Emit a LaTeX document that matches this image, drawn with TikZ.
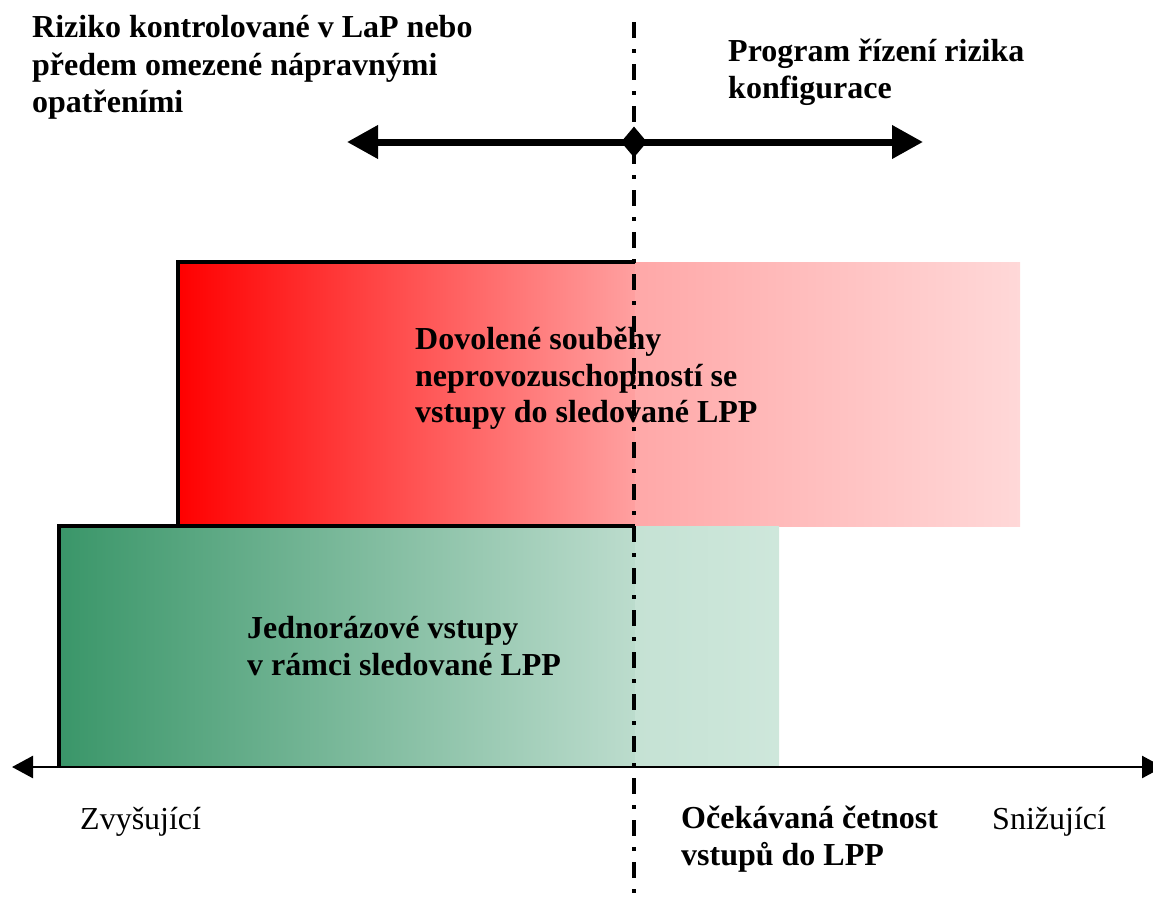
\documentclass[tikz,border=0pt]{standalone}
\usepackage{fontspec}
\setmainfont{Liberation Serif}
\usetikzlibrary{arrows.meta,shapes.geometric}

\definecolor{redStrong}{RGB}{255,0,0}
\definecolor{redMid}{RGB}{255,160,160}
\definecolor{redPaleA}{RGB}{255,168,168}
\definecolor{redPaleB}{RGB}{255,216,216}
\definecolor{greenStrong}{RGB}{58,150,105}
\definecolor{greenMid}{RGB}{188,220,205}
\definecolor{greenPaleA}{RGB}{197,226,212}
\definecolor{greenPaleB}{RGB}{206,231,219}

\begin{document}
\begin{tikzpicture}[x=1pt,y=-1pt,
  boldline/.style={anchor=base west, inner sep=0pt, font=\fontsize{32}{37.5}\selectfont\bfseries},
  plainline/.style={anchor=base west, inner sep=0pt, font=\fontsize{32}{37.5}\selectfont},
  frame/.style={line width=4pt, line cap=butt, line join=miter},
  divider/.style={line width=4pt, dash pattern=on 16pt off 11pt on 4pt off 11pt},
  scopearrow/.style={line width=7pt, {Triangle[length=31pt,width=32pt]}-{Triangle[length=31pt,width=32pt]}},
  axisarrow/.style={line width=2.5pt, {Triangle[length=21pt,width=22pt]}-{Triangle[length=21pt,width=22pt]}},
  pivot/.style={diamond, fill=black, inner sep=0pt, minimum width=26pt, minimum height=31pt}
]
\useasboundingbox (0,0) rectangle (1153,908);

% key points
\coordinate (divTop) at (634,22);
\coordinate (divBot) at (634,896);
\coordinate (scopeL) at (347,142);
\coordinate (scopeR) at (923,142);
\coordinate (axisL) at (12,767);
\coordinate (axisR) at (1163,767);

% band of allowed concurrent unavailabilities
\shade[left color=redStrong, right color=redMid] (178,262) rectangle (635,526);
\shade[left color=redPaleA, right color=redPaleB] (635,262) rectangle (1020,526);

% band of one-time entries
\shade[left color=greenStrong, right color=greenMid] (59,526) rectangle (635,767);
\shade[left color=greenPaleA, right color=greenPaleB] (635,526) rectangle (779,767);

% outlines of the left parts
\draw[frame] (635,262) -- (178,262) -- (178,526) -- (635,526);
\draw[line width=3.5pt] (178,526) -- (59,526) -- (59,767);

% axis
\draw[axisarrow] (axisL) -- (axisR);

% texts
\node[boldline] (tl1) at (32,37) {Riziko kontrolované v LaP nebo};
\node[boldline] (tl2) at (32,75) {předem omezené nápravnými};
\node[boldline] (tl3) at (32,112) {opatřeními};

\node[boldline] (tr1) at (728,61) {Program řízení rizika};
\node[boldline] (tr2) at (728,98) {konfigurace};

\node[boldline] (rd1) at (415,349) {Dovolené souběhy};
\node[boldline] (rd2) at (415,386) {neprovozuschopností se};
\node[boldline] (rd3) at (415,422) {vstupy do sledované LPP};

\node[boldline] (gr1) at (247,638) {Jednorázové vstupy};
\node[boldline] (gr2) at (247,675) {v rámci sledované LPP};

\node[plainline] (ax1) at (80,829) {Zvyšující};
\node[boldline] (ax2) at (681,828) {Očekávaná četnost};
\node[boldline] (ax3) at (681,865) {vstupů do LPP};
\node[plainline] (ax4) at (992,829) {Snižující};

% dash-dot divider
\draw[divider] (divTop) -- (divBot);

% scope arrow with pivot
\draw[scopearrow] (scopeL) -- (scopeR);
\node[pivot] (piv) at (634,142) {};
\end{tikzpicture}
\end{document}
